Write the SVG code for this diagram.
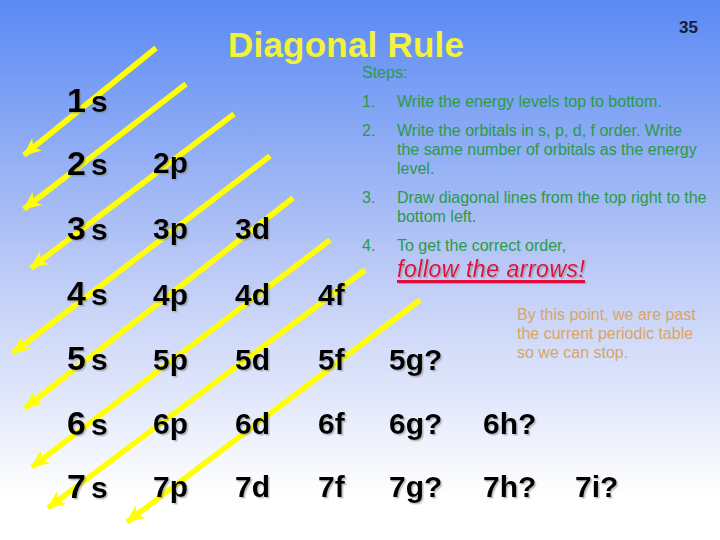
<svg xmlns="http://www.w3.org/2000/svg" width="720" height="540" viewBox="0 0 720 540">
<defs>
<linearGradient id="bg" x1="0" y1="0" x2="0" y2="1">
<stop offset="0" stop-color="#5a8af4"/>
<stop offset="0.5" stop-color="#bccaf6"/>
<stop offset="0.92" stop-color="#ffffff"/>
<stop offset="1" stop-color="#ffffff"/>
</linearGradient>
<filter id="sh" x="-10%" y="-10%" width="130%" height="140%">
<feDropShadow dx="1.5" dy="1.5" stdDeviation="0.6" flood-color="#808080" flood-opacity="0.5"/>
</filter>
<marker id="ah" markerUnits="userSpaceOnUse" markerWidth="20" markerHeight="18" refX="17" refY="8" orient="auto">
<path d="M0,0 L18,8 L0,16 L5,8 Z" fill="#ffff00"/>
</marker>
<style>
.lbl{font-family:"Liberation Sans",Arial,sans-serif;font-size:30px;font-weight:bold;fill:#000;filter:url(#sh)}
.num{font-family:"Liberation Sans",Arial,sans-serif;font-size:34px;font-weight:bold;fill:#000;filter:url(#sh)}
.arr{stroke:#ffff00;stroke-width:5.5;fill:none;stroke-linecap:butt;marker-end:url(#ah)}
.step{font-family:"Liberation Sans",Arial,sans-serif;font-size:16px;fill:#2a9a48}
.note{font-family:"Liberation Sans",Arial,sans-serif;font-size:16px;fill:#d9a566}
</style>
</defs>
<rect x="0" y="0" width="720" height="540" fill="url(#bg)"/>

<g id="title">
<text x="228" y="57" font-family="Liberation Sans, Arial, sans-serif" font-size="35" font-weight="bold" fill="#f2f23a" textLength="236">Diagonal Rule</text>
</g>
<g id="page-number">
<text x="679" y="33" font-family="Liberation Sans, Arial, sans-serif" font-size="17" font-weight="bold" fill="#1a1a3a">35</text>
</g>

<g id="steps">
<text class="step" x="362" y="78" font-size="14">Steps:</text>
<text class="step" x="362" y="107">1.</text>
<text class="step" x="397" y="107">Write the energy levels top to bottom.</text>
<text class="step" x="362" y="136">2.</text>
<text class="step" x="397" y="136">Write the orbitals in s, p, d, f order.  Write</text>
<text class="step" x="397" y="155">the same number of orbitals as the energy</text>
<text class="step" x="397" y="174">level.</text>
<text class="step" x="362" y="203">3.</text>
<text class="step" x="397" y="203">Draw diagonal lines from the top right to the</text>
<text class="step" x="397" y="222">bottom left.</text>
<text class="step" x="362" y="251">4.</text>
<text class="step" x="397" y="251">To get the correct order,</text>
<text x="397" y="277" font-family="Liberation Sans, Arial, sans-serif" font-size="23" font-style="italic" fill="#e0103c" filter="url(#sh)" textLength="188">follow the arrows!</text>
<rect x="397" y="280" width="188" height="3" fill="#e0103c" filter="url(#sh)"/>
</g>

<g id="note">
<text class="note" x="517" y="320">By this point, we are past</text>
<text class="note" x="517" y="339">the current periodic table</text>
<text class="note" x="517" y="358">so we can stop.</text>
</g>

<g id="connectors">
<line class="arr" x1="156" y1="48" x2="24" y2="155"/>
<line class="arr" x1="186" y1="84" x2="24" y2="209"/>
<line class="arr" x1="234" y1="114" x2="31" y2="268"/>
<line class="arr" x1="270" y1="156" x2="13" y2="353"/>
<line class="arr" x1="293" y1="198" x2="25" y2="408"/>
<line class="arr" x1="330" y1="240" x2="32" y2="467"/>
<line class="arr" x1="365" y1="270" x2="48" y2="508"/>
<line class="arr" x1="420" y1="300" x2="127" y2="522"/>
</g>

<g id="n1s"><text class="num" x="67" y="112">1</text><text class="lbl" x="91" y="112">s</text></g>
<g id="n2s"><text class="num" x="67" y="175">2</text><text class="lbl" x="91" y="175">s</text></g>
<g id="n2p"><text class="lbl" x="153" y="173">2p</text></g>
<g id="n3s"><text class="num" x="67" y="240">3</text><text class="lbl" x="91" y="240">s</text></g>
<g id="n3p"><text class="lbl" x="153" y="239">3p</text></g>
<g id="n3d"><text class="lbl" x="235" y="239">3d</text></g>
<g id="n4s"><text class="num" x="67" y="305">4</text><text class="lbl" x="91" y="305">s</text></g>
<g id="n4p"><text class="lbl" x="153" y="305">4p</text></g>
<g id="n4d"><text class="lbl" x="235" y="305">4d</text></g>
<g id="n4f"><text class="lbl" x="318" y="305">4f</text></g>
<g id="n5s"><text class="num" x="67" y="370">5</text><text class="lbl" x="91" y="370">s</text></g>
<g id="n5p"><text class="lbl" x="153" y="370">5p</text></g>
<g id="n5d"><text class="lbl" x="235" y="370">5d</text></g>
<g id="n5f"><text class="lbl" x="318" y="370">5f</text></g>
<g id="n5g"><text class="lbl" x="389" y="370">5g?</text></g>
<g id="n6s"><text class="num" x="67" y="435">6</text><text class="lbl" x="91" y="435">s</text></g>
<g id="n6p"><text class="lbl" x="153" y="434">6p</text></g>
<g id="n6d"><text class="lbl" x="235" y="434">6d</text></g>
<g id="n6f"><text class="lbl" x="318" y="434">6f</text></g>
<g id="n6g"><text class="lbl" x="389" y="434">6g?</text></g>
<g id="n6h"><text class="lbl" x="483" y="434">6h?</text></g>
<g id="n7s"><text class="num" x="67" y="498">7</text><text class="lbl" x="91" y="498">s</text></g>
<g id="n7p"><text class="lbl" x="153" y="497">7p</text></g>
<g id="n7d"><text class="lbl" x="235" y="497">7d</text></g>
<g id="n7f"><text class="lbl" x="318" y="497">7f</text></g>
<g id="n7g"><text class="lbl" x="389" y="497">7g?</text></g>
<g id="n7h"><text class="lbl" x="483" y="497">7h?</text></g>
<g id="n7i"><text class="lbl" x="575" y="497">7i?</text></g>
</svg>
